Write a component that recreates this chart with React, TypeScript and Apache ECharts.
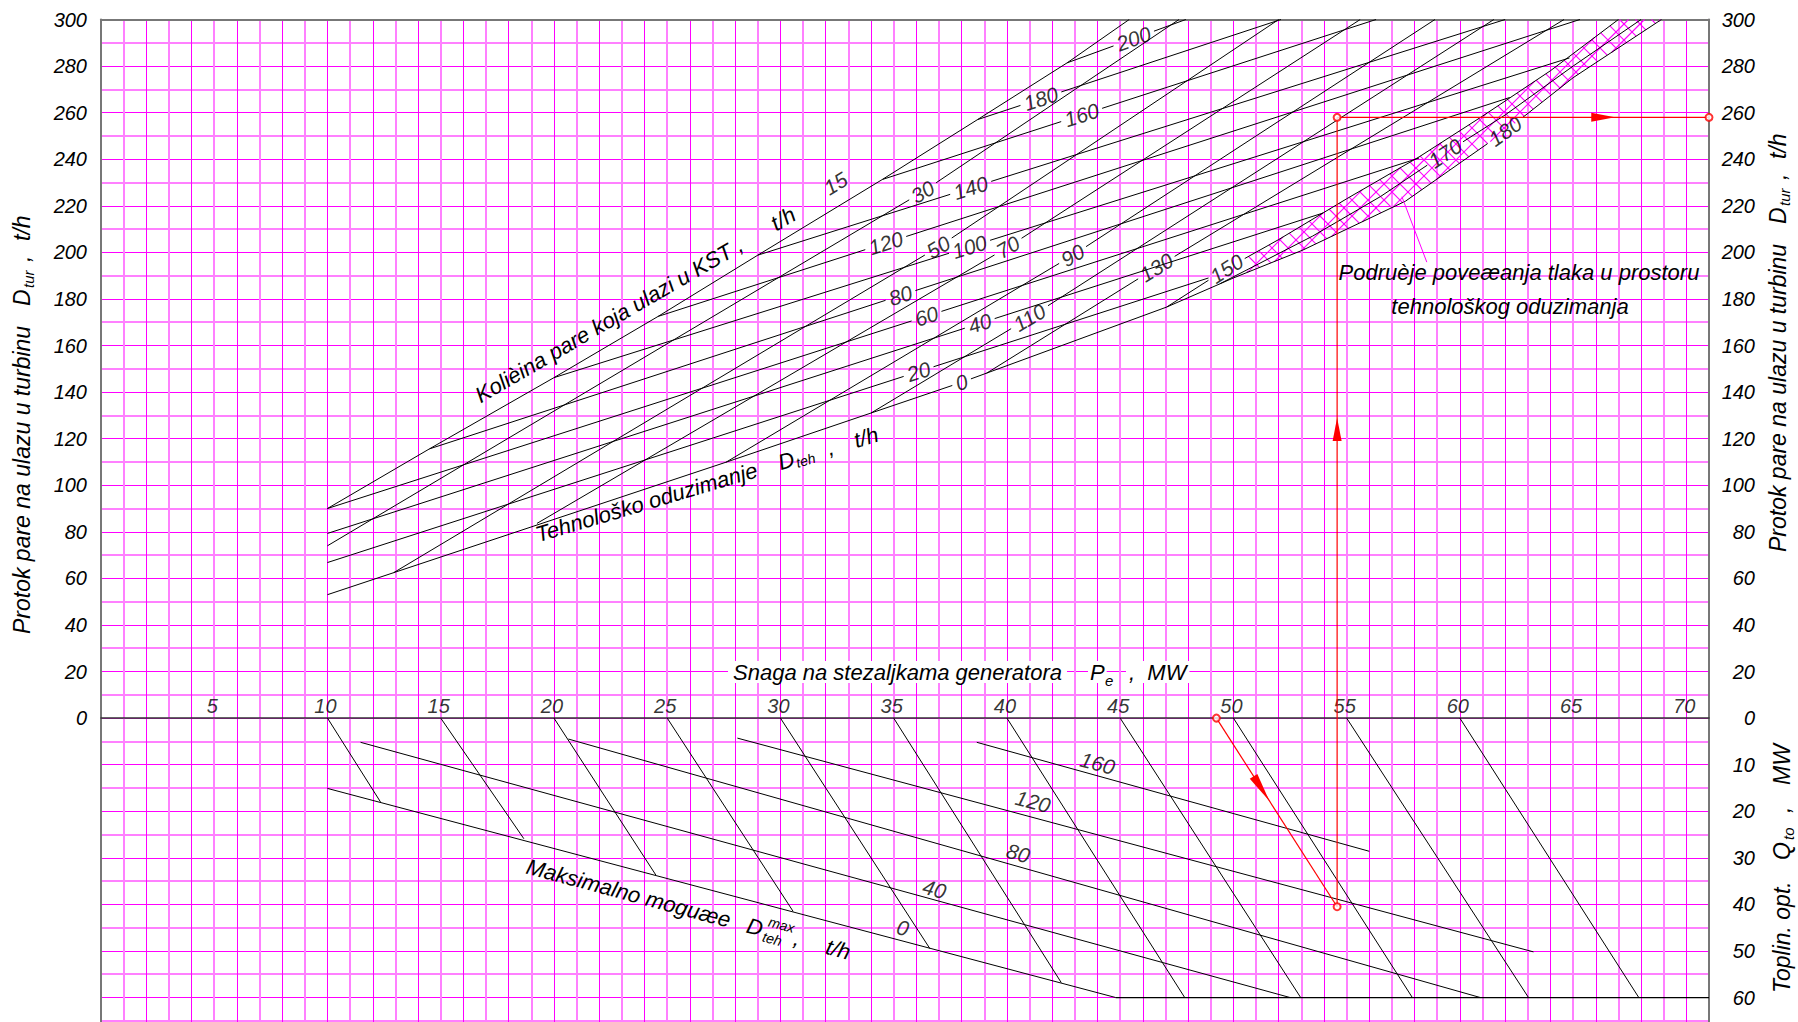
import React, { useEffect, useRef } from "react";
import * as echarts from "echarts";

const FONT = '"Liberation Sans", Arial, Helvetica, sans-serif';

// ---------- axes ----------
const X_MIN = 0, X_MAX = 71, Y_MIN = -140, Y_MAX = 300;
const GRID_LEFT = 101, GRID_TOP = 19.5, GRID_W = 1608, GRID_H = 1024.6;
const CHART_W = 1798, CHART_H = 1070;
const PX_X = GRID_W / (X_MAX - X_MIN);
const PX_Y = GRID_H / (Y_MAX - Y_MIN);
const Q_TO_Y = 2; // lower half: 1 MW of heat = 2 units of the shared vertical axis
const xTickLabels = [5, 10, 15, 20, 25, 30, 35, 40, 45, 50, 55, 60, 65, 70];

// ---------- upper part: constant technological extraction D_teh [P_e MW, D_tur t/h] ----------
const tehValues = ["0", "20", "40", "60", "80", "100", "120", "140", "160", "180", "200"];
const teh0 = [[10, 53], [27.6, 109.9], [38.0, 144.2], [47.05, 176.5]];
const teh20 = [[10, 66.8], [36.1, 148.8], [48.9, 189]];
const teh40 = [[10, 79.3], [38.8, 169.5], [53.96, 216.9]];
const teh60 = [[10, 90], [36.45, 172.6], [58.2, 240.5]];
const teh80 = [[14.5, 115.6], [35.3, 181.5], [62.2, 266.5]];
const teh100 = [[20, 146.2], [38.35, 202.4], [64.84, 283.5]];
const teh120 = [[24.6, 172.5], [34.65, 204], [65.3, 300]];
const teh140 = [[29, 198.8], [38.4, 227.7], [62.0, 300]];
const teh160 = [[34.5, 231.3], [43.3, 259], [56.3, 300]];
const teh180 = [[38.7, 257], [41.5, 266], [52.1, 300]];
const teh200 = [[42.66, 281.4], [45.6, 291.8], [47.9, 300]];
const tehLines = [teh0, teh20, teh40, teh60, teh80, teh100, teh120, teh140, teh160, teh180, teh200];
const tehLabelX = [38.0, 36.1, 38.8, 36.45, 35.3, 38.35, 34.65, 38.4, 43.3, 41.5, 45.6];

// ---------- upper part: steam entering KST [P_e MW, D_tur t/h] ----------
const kstValues = ["15", "30", "50", "70", "90", "110", "130", "150", "170", "180"];
const kst15 = [[10, 90], [14.5, 115.6], [20, 146.2], [24.6, 172.5], [29, 198.8], [34.5, 231.3], [38.7, 257], [42.66, 281.4], [45.4, 300]];
const kst30 = [[10, 74], [36.28, 226], [47.6, 300]];
const kst50 = [[12.93, 62.5], [36.97, 202.3], [52, 300]];
const kst70 = [[19.25, 83.6], [40.05, 202.3], [55.6, 300]];
const kst90 = [[27.6, 109.9], [42.9, 198.7], [58.9, 300]];
const kst110 = [[34, 131], [41, 172], [61.5, 300]];
const kst130 = [[39.1, 148.1], [46.6, 193.5], [64.6, 300]];
const kst150 = [[47.05, 176.5], [49.7, 193], [52, 205.5], [55, 223], [58.2, 241], [61, 258.5], [64, 278], [67, 300]];
const kst170 = [[49.4, 186.5], [53.5, 207], [56.5, 224], [59.35, 242.6], [62, 259], [65, 280], [68, 300]];
const kst180 = [[47.05, 176.5], [50, 189], [53.07, 201], [57.6, 222], [62, 252], [65, 275], [68.9, 300]];
const kstLines = [kst15, kst30, kst50, kst70, kst90, kst110, kst130, kst150, kst170, kst180];
const kstLabelX = [null, 36.28, 36.97, 40.05, 42.9, 41, 46.6, 49.7, 59.35, 62];
const kst15Label = [32.44, 229.6];
const HATCH_X0 = 50.6;
const leaderLine = [[58.54, 195.8], [57.44, 223.9]];

// ---------- lower part: max. possible D_teh lines [P_e MW, Q_to MW] ----------
const maxValues = ["0", "40", "80", "120", "160"];
const max0 = [[10, 15.1], [44.8, 60]];
const max40 = [[11.46, 5.2], [52.5, 60]];
const max80 = [[20.64, 4.5], [60.9, 60]];
const max120 = [[28.1, 4.3], [63.25, 50.2]];
const max160 = [[38.67, 5.2], [56, 28.6]];
const maxLines = [max0, max40, max80, max120, max160];
const maxLabelPos = [[35.4, 45], [36.8, 36.7], [40.5, 29], [41.15, 17.9], [44, 9.7]];
const q60Limit = [[44.8, 60], [71, 60]];
const powerStarts = [10, 15, 20, 25, 30, 35, 40, 45, 50, 55, 60];
const powerEnds = [[12.34, 18], [18.67, 25.9], [24.5, 33.7], [30.56, 41.5], [36.6, 49.5], [42.4, 56.8], [47.85, 60], [52.97, 60], [57.9, 60], [63.03, 60], [67.9, 60]];

// ---------- red example construction ----------
const redDiagQ = [[49.25, 0], [54.58, 40.5]];
const redVert = [[54.58, -81], [54.58, 258]];
const redHoriz = [[54.58, 258], [71, 258]];
const redCircles = [[49.25, 0], [54.58, -81], [54.58, 258], [71, 258]];
const redArrows = [[50.89, -25, 51.59, -35.6], [54.58, 119, 54.58, 129], [65.8, 258, 66.85, 258]];

// ---------- helpers ----------
type Pt = number[];
const toY = (pts: Pt[]) => pts.map((p) => [p[0], -p[1] * Q_TO_Y]);
const LABEL_SIZE = 21;

function yAt(line: Pt[], x: number): number {
  for (let i = 0; i < line.length - 1; i++) {
    const a = line[i], b = line[i + 1];
    if (x >= a[0] && x <= b[0]) return a[1] + ((b[1] - a[1]) * (x - a[0])) / (b[0] - a[0]);
  }
  return x < line[0][0] ? line[0][1] : line[line.length - 1][1];
}
function slopeAt(line: Pt[], x: number): number {
  for (let i = 0; i < line.length - 1; i++) {
    const a = line[i], b = line[i + 1];
    if (x >= a[0] && x <= b[0]) return (b[1] - a[1]) / (b[0] - a[0]);
  }
  const a = line[line.length - 2], b = line[line.length - 1];
  return (b[1] - a[1]) / (b[0] - a[0]);
}
function fromX(line: Pt[], x0: number): Pt[] {
  return [[x0, yAt(line, x0)] as Pt].concat(line.filter((p) => p[0] > x0));
}

function T(text: string, x: number, y: number, size: number, extra: any = {}) {
  const align = extra.align || "left";
  return {
    type: "text",
    x,
    y,
    z: 20,
    silent: true,
    style: {
      text,
      fill: "#000",
      fontSize: size,
      fontStyle: "italic",
      fontFamily: FONT,
      align,
      textAlign: align,
      verticalAlign: "middle",
      textVerticalAlign: "middle",
      ...(extra.style || {}),
    },
  };
}

function buildOption() {
  const series: any[] = [];
  const labelData: any[] = [];

  const addLine = (pts: Pt[], z = 3, color = "#000", width = 1) => {
    series.push({
      type: "line",
      data: pts,
      showSymbol: false,
      symbol: "none",
      silent: true,
      clip: true,
      z,
      xAxisIndex: 0,
      yAxisIndex: 0,
      lineStyle: { color, width },
    });
  };
  const addLabeled = (line: Pt[], text: string, lx: number | null) => {
    if (lx == null) {
      addLine(line);
      return;
    }
    const half = (text.length * 0.556 * LABEL_SIZE) / 2 + 4;
    const ang = Math.atan((slopeAt(line, lx) * PX_Y) / PX_X);
    const dx = (half * Math.cos(ang)) / PX_X;
    const a = lx - dx, b = lx + dx;
    addLine(line.filter((p) => p[0] < a).concat([[a, yAt(line, a)]]));
    addLine([[b, yAt(line, b)] as Pt].concat(line.filter((p) => p[0] > b)));
    labelData.push({ value: [lx, yAt(line, lx)], label: { formatter: text, rotate: (ang * 180) / Math.PI } });
  };

  // hatched zone between KST 150 and KST 180
  series.push({
    type: "custom",
    data: [[HATCH_X0, 200]],
    encode: { x: 0, y: 1 },
    silent: true,
    z: 2,
    renderItem: (_params: any, api: any) => {
      const up = fromX(kst150, HATCH_X0).map((p) => api.coord(p));
      const lo = fromX(kst180, HATCH_X0).map((p) => api.coord(p)).reverse();
      const poly = up.concat(lo);
      const S = 16;
      const children: any[] = [];
      for (const sgn of [1, -1]) {
        const vals = poly.map((p: number[]) => p[0] + sgn * p[1]);
        const cmin = Math.min(...vals), cmax = Math.max(...vals);
        for (let c = Math.ceil(cmin / S) * S; c <= cmax; c += S) {
          const xs: number[][] = [];
          for (let i = 0; i < poly.length; i++) {
            const p = poly[i], q = poly[(i + 1) % poly.length];
            const fa = p[0] + sgn * p[1] - c, fb = q[0] + sgn * q[1] - c;
            if (fa < 0 !== fb < 0) {
              const t = fa / (fa - fb);
              xs.push([p[0] + t * (q[0] - p[0]), p[1] + t * (q[1] - p[1])]);
            }
          }
          xs.sort((m, n) => m[0] - n[0]);
          for (let k = 0; k + 1 < xs.length; k += 2) {
            children.push({
              type: "line",
              shape: { x1: xs[k][0], y1: xs[k][1], x2: xs[k + 1][0], y2: xs[k + 1][1] },
              style: { stroke: "#ff00ff", lineWidth: 1.1 },
            });
          }
        }
      }
      return { type: "group", children };
    },
  });

  tehLines.forEach((l, i) => addLabeled(l, tehValues[i], tehLabelX[i]));
  kstLines.forEach((l, i) => addLabeled(l, kstValues[i], kstLabelX[i]));
  labelData.push({ value: kst15Label, label: { formatter: kstValues[0], rotate: 31 } });
  addLine(leaderLine, 3, "#ff00ff", 1);

  // lower part
  maxLines.forEach((l) => addLine(toY(l)));
  addLine(toY(q60Limit), 3, "#000", 1.2);
  powerStarts.forEach((p, i) => addLine(toY([[p, 0], powerEnds[i]])));
  maxLabelPos.forEach((p, i) => {
    labelData.push({ value: [p[0], -p[1] * Q_TO_Y], label: { formatter: maxValues[i], rotate: -15 } });
  });

  series.push({
    type: "scatter",
    data: labelData,
    symbolSize: 1,
    silent: true,
    z: 5,
    itemStyle: { color: "rgba(0,0,0,0)" },
    label: { show: true, position: "inside", color: "#000", fontSize: LABEL_SIZE, fontStyle: "italic", fontFamily: FONT },
  });

  // power scale labels sitting on the zero line
  series.push({
    type: "scatter",
    data: xTickLabels.map((v) => [v, 0]),
    symbolSize: 1,
    silent: true,
    z: 5,
    itemStyle: { color: "rgba(0,0,0,0)" },
    label: {
      show: true,
      position: "top",
      distance: 2,
      offset: [-2, 0],
      color: "#000",
      fontSize: 20,
      fontStyle: "italic",
      fontFamily: FONT,
      formatter: (p: any) => String(p.value[0]),
    },
  });

  // red construction
  addLine(toY(redDiagQ), 6, "#ff0000", 1.2);
  addLine(redVert, 6, "#ff0000", 1.2);
  addLine(redHoriz, 6, "#ff0000", 1.2);
  series.push({
    type: "scatter",
    data: redCircles,
    symbol: "emptyCircle",
    symbolSize: 7,
    silent: true,
    z: 7,
    itemStyle: { color: "#ff0000", borderWidth: 1 },
  });
  series.push({
    type: "custom",
    data: redArrows,
    encode: { x: [0, 2], y: [1, 3] },
    silent: true,
    z: 7,
    renderItem: (_params: any, api: any) => {
      const p1 = api.coord([api.value(0), api.value(1)]);
      const p2 = api.coord([api.value(2), api.value(3)]);
      const dx = p2[0] - p1[0], dy = p2[1] - p1[1];
      const L = Math.hypot(dx, dy) || 1;
      const nx = -dy / L, ny = dx / L, w = 4.5;
      return {
        type: "polygon",
        shape: { points: [p2, [p1[0] + nx * w, p1[1] + ny * w], [p1[0] - nx * w, p1[1] - ny * w]] },
        style: { fill: "#ff0000" },
      };
    },
  });

  const axLabel = { color: "#000", fontSize: 20, fontStyle: "italic", fontFamily: FONT };

  const graphic: any[] = [
    {
      type: "group",
      x: 22,
      y: 634,
      rotation: Math.PI / 2,
      children: [
        T("Protok pare na ulazu u turbinu", 0, 0, 23),
        T("D", 328, 0, 23),
        T("tur", 346, 6, 15),
        T(",", 372, 0, 23),
        T("t/h", 393, 0, 23),
      ],
    },
    {
      type: "group",
      x: 1778,
      y: 552,
      rotation: Math.PI / 2,
      children: [
        T("Protok pare na ulazu u turbinu", 0, 0, 23),
        T("D", 328, 0, 23),
        T("tur", 346, 6, 15),
        T(",", 372, 0, 23),
        T("t/h", 393, 0, 23),
      ],
    },
    {
      type: "group",
      x: 1782,
      y: 993,
      rotation: Math.PI / 2,
      children: [
        T("Toplin. opt.", 0, 0, 23),
        T("Q", 133, 0, 23),
        T("to", 153, 6, 15),
        T(",", 180, 0, 23),
        T("MW", 208, 0, 23),
      ],
    },
    {
      type: "group",
      x: 477,
      y: 397,
      rotation: (30.2 * Math.PI) / 180,
      children: [T("Kolièina pare koja ulazi u KST ,", 0, 0, 22), T("t/h", 342, 0, 22)],
    },
    {
      type: "group",
      x: 536,
      y: 535,
      rotation: (16.5 * Math.PI) / 180,
      children: [
        T("Tehnološko oduzimanje", 0, 0, 22),
        T("D", 253, 0, 22),
        T("teh", 270, 5, 14),
        T(",", 304, 0, 22),
        T("t/h", 332, 0, 22),
      ],
    },
    {
      type: "group",
      x: 527,
      y: 866,
      rotation: (-15 * Math.PI) / 180,
      children: [
        T("Maksimalno moguæe", 0, 0, 22),
        T("D", 228, 0, 22),
        T("max", 248, -9, 14),
        T("teh", 246, 7, 14),
        T(",", 277, 0, 22),
        T("t/h", 310, 0, 22),
      ],
    },
    T("Snaga na stezaljkama generatora", 728, 672, 22, { style: { backgroundColor: "#fff", padding: [0, 5] } }),
    T("P", 1088, 672, 22, { style: { backgroundColor: "#fff", padding: [0, 2] } }),
    T("e", 1103, 680, 15, { style: { backgroundColor: "#fff", padding: [0, 2] } }),
    T(",  MW", 1126, 672, 22, { style: { backgroundColor: "#fff", padding: [0, 3] } }),
    T("Podruèje poveæanja tlaka u prostoru", 1519, 272, 22, { align: "center" }),
    T("tehnološkog oduzimanja", 1510, 306, 22, { align: "center" }),
  ];

  return {
    animation: false,
    backgroundColor: "#fff",
    grid: {
      left: GRID_LEFT,
      top: GRID_TOP,
      width: GRID_W,
      height: GRID_H,
      outerBoundsMode: "none",
      containLabel: false,
      show: true,
      backgroundColor: "#fff",
      borderWidth: 0,
    },
    xAxis: [
      {
        type: "value",
        min: X_MIN,
        max: X_MAX,
        interval: 2,
        axisLine: { show: false },
        axisTick: { show: false },
        axisLabel: { show: false },
        splitLine: { show: true, lineStyle: { color: "#ff00ff", width: 1 } },
        minorTick: { show: false, splitNumber: 2 },
        minorSplitLine: { show: true, lineStyle: { color: "#ff80ff", width: 2 } },
      },
      {
        type: "value",
        min: X_MIN,
        max: X_MAX,
        interval: 5,
        position: "bottom",
        axisLine: { show: true, onZero: true, lineStyle: { color: "#333", width: 1.5 } },
        axisTick: { show: false },
        splitLine: { show: false },
        axisLabel: { show: false },
      },
      {
        type: "value",
        min: X_MIN,
        max: X_MAX,
        position: "top",
        axisLine: { show: true, onZero: false, lineStyle: { color: "#777", width: 2 } },
        axisTick: { show: false },
        axisLabel: { show: false },
        splitLine: { show: false },
      },
    ],
    yAxis: [
      {
        type: "value",
        min: Y_MIN,
        max: Y_MAX,
        interval: 20,
        position: "left",
        axisLine: { show: true, onZero: false, lineStyle: { color: "#777", width: 2 } },
        axisTick: { show: false },
        axisLabel: { ...axLabel, margin: 14, formatter: (v: number) => (v >= 0 ? String(v) : "") },
        splitLine: { show: true, lineStyle: { color: "#ff00ff", width: 1 } },
        minorTick: { show: false, splitNumber: 2 },
        minorSplitLine: { show: true, lineStyle: { color: "#ff80ff", width: 2 } },
      },
      {
        type: "value",
        min: Y_MIN,
        max: Y_MAX,
        interval: 20,
        position: "right",
        axisLine: { show: true, onZero: false, lineStyle: { color: "#777", width: 2 } },
        axisTick: { show: false },
        splitLine: { show: false },
        axisLabel: {
          ...axLabel,
          margin: 46,
          align: "right",
          formatter: (v: number) => (v >= 0 ? String(v) : v >= -120 ? String(-v / Q_TO_Y) : ""),
        },
      },
    ],
    series,
    graphic,
  };
}

export default function App() {
  const ref = useRef<HTMLDivElement>(null);
  useEffect(() => {
    if (!ref.current) return;
    const chart = echarts.init(ref.current, undefined, { renderer: "svg" });
    chart.setOption(buildOption() as any);
    return () => chart.dispose();
  }, []);
  return (
    <div
      style={{
        position: "fixed",
        left: 0,
        top: 0,
        width: 1798,
        height: 1022,
        overflow: "hidden",
        background: "#fff",
      }}
    >
      <div ref={ref} style={{ width: CHART_W, height: CHART_H }} />
    </div>
  );
}
